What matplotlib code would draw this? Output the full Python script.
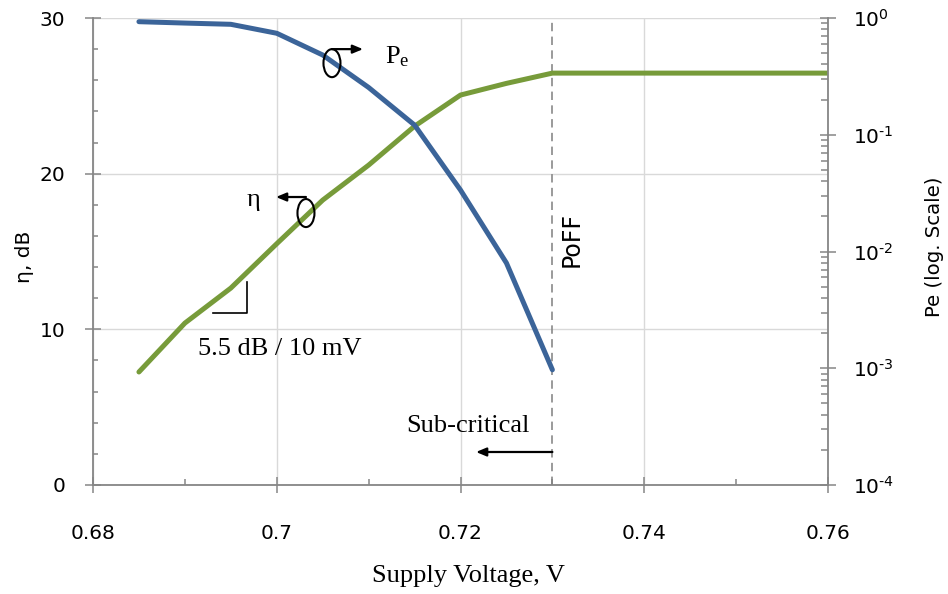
import matplotlib
matplotlib.use("Agg")
import matplotlib.pyplot as plt
from matplotlib.patches import Ellipse
from matplotlib.lines import Line2D
import numpy as np

plt.rcParams['font.family'] = ['DejaVu Sans']
plt.rcParams['mathtext.default'] = 'regular'

# Efficiency (dB) versus supply voltage
voltage_eta = [0.685, 0.69, 0.695, 0.70, 0.705, 0.71, 0.715, 0.72, 0.725, 0.73, 0.76]
eta_db = [7.26, 10.4, 12.65, 15.5, 18.3, 20.55, 23.05, 25.05, 25.8, 26.46, 26.46]

# Error probability (log scale) versus supply voltage
voltage_pe = [0.685, 0.69, 0.695, 0.70, 0.705, 0.71, 0.715, 0.72, 0.725, 0.73]
pe = [0.93, 0.905, 0.883, 0.74, 0.482, 0.254, 0.121, 0.0336, 0.00797, 0.00097]

x_ticks = [0.68, 0.70, 0.72, 0.74, 0.76]
x_tick_labels = ['0.68', '0.7', '0.72', '0.74', '0.76']
eta_ticks = [0, 10, 20, 30]
pe_ticks = [1e-4, 1e-3, 1e-2, 1e-1, 1e0]
pe_tick_labels = [r'10$^{\text{-4}}$', r'10$^{\text{-3}}$', r'10$^{\text{-2}}$',
                  r'10$^{\text{-1}}$', r'10$^{\text{0}}$']
poff_voltage = 0.73

BLUE = '#3B6499'
GREEN = '#779B3A'
AXIS_GRAY = '#868686'
GRID_GRAY = '#D9D9D9'
SERIF = 'Liberation Serif'

fig = plt.figure(figsize=(9.48, 5.94), dpi=100)
ax = fig.add_axes([93 / 948, 1 - 485 / 594, (828 - 93) / 948, (485 - 18) / 594])
ax2 = ax.twinx()

# --- left axis: efficiency ---
ax.plot(voltage_eta, eta_db, color=GREEN, lw=3.6, solid_capstyle='round',
        solid_joinstyle='round', zorder=3)
ax.set_xlim(0.68, 0.76)
ax.set_ylim(0, 30)
ax.set_xticks(x_ticks)
ax.set_xticklabels(x_tick_labels)
ax.set_xticks(np.arange(0.69, 0.76, 0.02), minor=True)
ax.set_yticks(eta_ticks)
ax.set_yticks(np.arange(0, 31, 2), minor=True)
ax.grid(True, which='major', color=GRID_GRAY, lw=1.0, zorder=0)
ax.set_axisbelow(True)

for side in ('top', 'right'):
    ax.spines[side].set_visible(False)
for side in ('left', 'bottom'):
    ax.spines[side].set_color(AXIS_GRAY)
    ax.spines[side].set_linewidth(1.3)

ax.tick_params(axis='y', which='major', direction='inout', length=12, width=1.1,
               color=AXIS_GRAY, labelsize=14.5, pad=14)
ax.tick_params(axis='y', which='minor', direction='in', length=3.8, width=1.1,
               color=AXIS_GRAY)
ax.tick_params(axis='x', which='major', direction='inout', length=12, width=1.1,
               color=AXIS_GRAY, labelsize=14.5, pad=22)
ax.tick_params(axis='x', which='minor', direction='in', length=4.5, width=1.1,
               color=AXIS_GRAY)

# --- right axis: error probability ---
ax2.plot(voltage_pe, pe, color=BLUE, lw=3.6, solid_capstyle='round',
         solid_joinstyle='round', zorder=3)
ax2.set_yscale('log')
ax2.set_ylim(1e-4, 1e0)
ax2.set_yticks(pe_ticks)
ax2.set_yticklabels(pe_tick_labels)
ax2.yaxis.set_minor_locator(matplotlib.ticker.LogLocator(base=10, subs=np.arange(2, 10)))
ax2.yaxis.set_minor_formatter(matplotlib.ticker.NullFormatter())
for side in ('top', 'left', 'bottom'):
    ax2.spines[side].set_visible(False)
ax2.spines['right'].set_color(AXIS_GRAY)
ax2.spines['right'].set_linewidth(1.3)
ax2.tick_params(axis='y', which='major', direction='inout', length=12, width=1.1,
                color=AXIS_GRAY, labelsize=14.5, pad=12)
ax2.tick_params(axis='y', which='minor', direction='in', length=5, width=1.1,
                color=AXIS_GRAY)

# PoFF boundary
ax.axvline(poff_voltage, color='#7F7F7F', lw=1.1, linestyle=(0, (5.5, 3.5)), zorder=2)
ax2.text(0.73214, 15.74, 'PoFF', transform=ax.transData, rotation=90,
         ha='center', va='center', fontsize=17)

# Annotations (drawn in efficiency-axis coordinates, on top of both curves)
tr = ax.transData
arrow_kw = dict(arrowstyle='-|>,head_length=0.6,head_width=0.25', color='black', lw=1.6,
                shrinkA=0, shrinkB=0)

# Pe marker
ax2.add_patch(Ellipse((0.70601, 27.1), 0.00185, 1.8, transform=tr, fill=False,
                      ec='black', lw=1.5, zorder=5))
ax2.annotate('', xy=(0.70939, 28.0), xytext=(0.70601, 28.0), xycoords=tr,
             textcoords=tr, arrowprops=arrow_kw, zorder=5)
ax2.text(0.71178, 27.1, 'P$_e$', transform=tr, fontsize=19, family=SERIF,
         ha='left', va='baseline')

# eta marker
ax2.add_patch(Ellipse((0.70318, 17.47), 0.00185, 1.8, transform=tr, fill=False,
                      ec='black', lw=1.5, zorder=5))
ax2.annotate('', xy=(0.69992, 18.5), xytext=(0.70318, 18.5), xycoords=tr,
             textcoords=tr, arrowprops=arrow_kw, zorder=5)
ax2.text(0.69752, 17.92, 'η', transform=tr, fontsize=19, family=SERIF,
         ha='center', va='baseline')

# slope triangle
ax2.add_line(Line2D([0.69306, 0.69676, 0.69676], [11.05, 11.05, 13.04],
                    transform=tr, color='black', lw=1.2, zorder=5))
ax2.text(0.69143, 8.35, '5.5 dB / 10 mV', transform=tr, fontsize=19, family=SERIF,
         ha='left', va='baseline')

# sub-critical region
ax2.text(0.72082, 3.40, 'Sub-critical', transform=tr, fontsize=19, family=SERIF,
         ha='center', va='baseline')
ax2.annotate('', xy=(0.72169, 2.12), xytext=(0.73, 2.12), xycoords=tr,
             textcoords=tr, arrowprops=arrow_kw, zorder=5)

# axis titles
fig.text(24 / 948, 1 - 257 / 594, 'η, dB', rotation=90, ha='center', va='center',
         fontsize=14.5)
fig.text(935 / 948, 1 - 247 / 594, 'Pe (log. Scale)', rotation=90, ha='center',
         va='center', fontsize=14.2)
fig.text(468 / 948, 1 - 576 / 594, 'Supply Voltage, V', ha='center', va='center',
         fontsize=19, family=SERIF)

fig.savefig('out.png', dpi=100)
